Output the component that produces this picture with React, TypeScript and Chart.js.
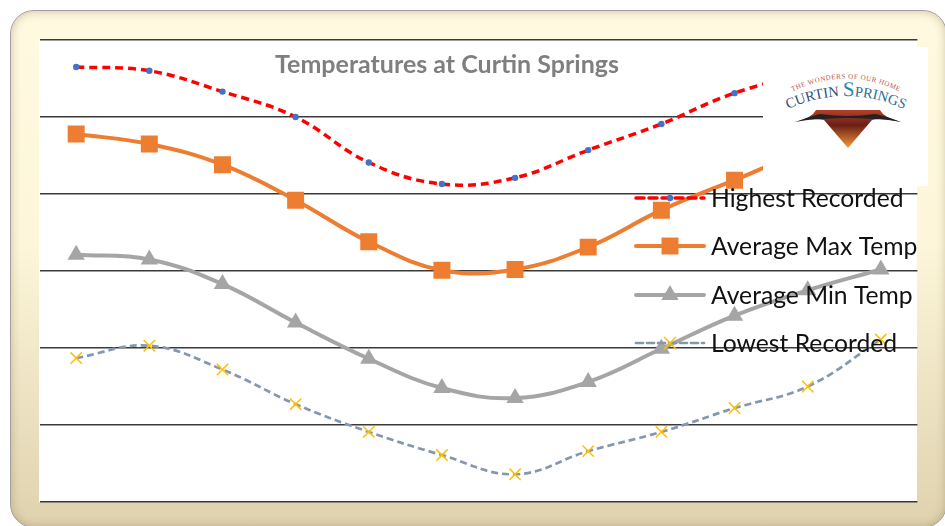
import React, { useEffect, useRef } from "react";
import { Chart, registerables } from "chart.js";
import { drawPoint } from "chart.js/helpers";

Chart.register(...registerables);

const months = ["Jan", "Feb", "Mar", "Apr", "May", "Jun", "Jul", "Aug", "Sep", "Oct", "Nov", "Dec"];
const highestRecorded = [46.5, 46.0, 43.3, 40.0, 34.1, 31.3, 32.1, 35.7, 39.1, 43.1, 45.5, 46.5];
const averageMax = [37.8, 36.5, 33.8, 29.2, 23.8, 20.1, 20.2, 23.1, 27.9, 31.8, 35.5, 37.0];
const averageMin = [22.1, 21.5, 18.3, 13.3, 8.6, 4.8, 3.5, 5.6, 9.9, 14.2, 17.5, 20.2];
const lowestRecorded = [8.7, 10.3, 7.2, 2.7, -0.9, -3.9, -6.4, -3.4, -0.9, 2.2, 5.0, 11.1];

const legendRows = [198, 246, 295, 343];

const overlayLegend = {
  id: "overlayLegend",
  afterDatasetsDraw(chart: any) {
    const ctx = chart.ctx;
    chart.data.datasets.forEach((ds: any, i: number) => {
      const y = legendRows[i];
      ctx.save();
      ctx.strokeStyle = ds.borderColor;
      ctx.lineWidth = ds.borderWidth;
      ctx.setLineDash(ds.borderDash || []);
      ctx.lineCap = "round";
      ctx.beginPath();
      ctx.moveTo(636, y);
      ctx.lineTo(704, y);
      ctx.stroke();
      ctx.setLineDash([]);
      ctx.fillStyle = ds.pointBackgroundColor;
      ctx.strokeStyle = ds.pointBorderColor;
      ctx.lineWidth = ds.pointBorderWidth;
      drawPoint(ctx, { pointStyle: ds.pointStyle, radius: ds.pointRadius, borderWidth: ds.pointBorderWidth, rotation: 0 }, 670, y);
      ctx.fillStyle = "#111111";
      ctx.font = "24.7px Lato";
      ctx.textBaseline = "middle";
      ctx.textAlign = "left";
      ctx.fillText(ds.label, 711, y + 1);
      ctx.restore();
    });
  },
};

const shiftTitle = {
  id: "shiftTitle",
  afterLayout(chart: any) {
    const t = chart.titleBlock;
    if (t) {
      t.left = 0;
      t.right = 894;
    }
  },
};

export default function App() {
  const ref = useRef<HTMLCanvasElement>(null);
  useEffect(() => {
    const chart = new Chart(ref.current!, {
      type: "line",
      data: {
        labels: months,
        datasets: [
          {
            label: "Highest Recorded",
            data: highestRecorded,
            borderColor: "#FF0000",
            borderWidth: 3.5,
            borderDash: [8, 5],
            pointStyle: "circle",
            pointRadius: 3.2,
            pointBorderWidth: 0,
            pointBackgroundColor: "#4472C4",
            pointBorderColor: "#4472C4",
            tension: 0.4,
          },
          {
            label: "Average Max Temp",
            data: averageMax,
            borderColor: "#ED7D31",
            borderWidth: 4,
            pointStyle: "rect",
            pointRadius: 12,
            pointBorderWidth: 0,
            pointBackgroundColor: "#ED7D31",
            pointBorderColor: "#ED7D31",
            tension: 0.4,
          },
          {
            label: "Average Min Temp",
            data: averageMin,
            borderColor: "#A5A5A5",
            borderWidth: 4,
            pointStyle: "triangle",
            pointRadius: 10,
            pointBorderWidth: 0,
            pointBackgroundColor: "#A5A5A5",
            pointBorderColor: "#A5A5A5",
            tension: 0.4,
          },
          {
            label: "Lowest Recorded",
            data: lowestRecorded,
            borderColor: "#8497B0",
            borderWidth: 2.7,
            borderDash: [7, 4],
            pointStyle: "crossRot",
            pointRadius: 8,
            pointBorderWidth: 1.5,
            pointBackgroundColor: "#FFC000",
            pointBorderColor: "#FFC000",
            tension: 0.4,
          },
        ],
      },
      options: {
        responsive: false,
        animation: false,
        layout: { padding: { left: 39.6, top: 40, right: 27.6, bottom: 24 } },
        scales: {
          x: { display: false, offset: true, grid: { display: false } },
          y: {
            min: -10,
            max: 50,
            ticks: { stepSize: 10, display: false },
            grid: { color: "#3a3a3a", lineWidth: 1.5, drawTicks: false },
            border: { display: false },
          },
        },
        plugins: {
          legend: { display: false },
          tooltip: { enabled: false },
          title: {
            display: true,
            text: "Temperatures at Curtin Springs",
            color: "#7F7F7F",
            font: { family: "Lato", size: 25, weight: "bold", lineHeight: 1.2 },
            padding: { top: 10, bottom: -40 },
          },
        },
      },
      plugins: [shiftTitle, overlayLegend],
    } as any);
    return () => chart.destroy();
  }, []);

  return (
    <div style={{ position: "fixed", left: 0, top: 0, width: 945, height: 526, overflow: "hidden", background: "#ffffff" }}>
      <div
        style={{
          position: "absolute",
          left: 10,
          top: 10,
          width: 935,
          height: 516,
          borderRadius: 24,
          border: "1px solid #a0a0a0",
          background: "linear-gradient(180deg, #fff9e0 0%, #fdf6da 45%, #dfd2ae 100%)",
          boxShadow: "inset 0 0 10px rgba(110,90,40,0.35)",
        }}
      />
      <div style={{ position: "absolute", left: 39, top: 40, width: 878, height: 462, background: "#ffffff" }} />
      <canvas ref={ref} width={945} height={526} style={{ position: "absolute", left: 0, top: 0, width: 945, height: 526 }} />
      <svg width={945} height={526} style={{ position: "absolute", left: 0, top: 0 }}>
        <defs>
          <path id="arcTop" d="M786 95 Q846 62 906 95" fill="none" />
          <path id="arcName" d="M782 112 Q846 80 910 112" fill="none" />
          <linearGradient id="logoFill" x1="0" y1="0" x2="0" y2="1">
            <stop offset="0" stopColor="#b5402c" />
            <stop offset="0.4" stopColor="#6a1f16" />
            <stop offset="1" stopColor="#f49a3a" />
          </linearGradient>
        </defs>
        <rect x={763} y={47} width={165} height={139} fill="#ffffff" />
        <text fontFamily="Liberation Serif" fontSize={7} fill="#b4574f" letterSpacing={0.5}>
          <textPath href="#arcTop" startOffset="50%" textAnchor="middle">THE WONDERS OF OUR HOME</textPath>
        </text>
        <text fontFamily="Liberation Serif" fontSize={14.5} fill="#2f5078">
          <textPath href="#arcName" startOffset="50%" textAnchor="middle">
            CURTIN <tspan fontSize={21} fill="#2e86a8">S</tspan><tspan fill="#2e6f94">PRINGS</tspan>
          </textPath>
        </text>
        <path d="M795 122 Q812 118 816 110 L880 110 Q884 118 901 122 Q880 117 872 120 L848 148 L824 120 Q812 117 795 122 Z" fill="url(#logoFill)" />
        <path d="M795 122 Q812 116 820 114 Q848 118 875 114 Q886 116 901 122 Q886 119 873 119 Q848 117 823 119 Q810 119 795 122 Z" fill="#222222" />
      </svg>
    </div>
  );
}
